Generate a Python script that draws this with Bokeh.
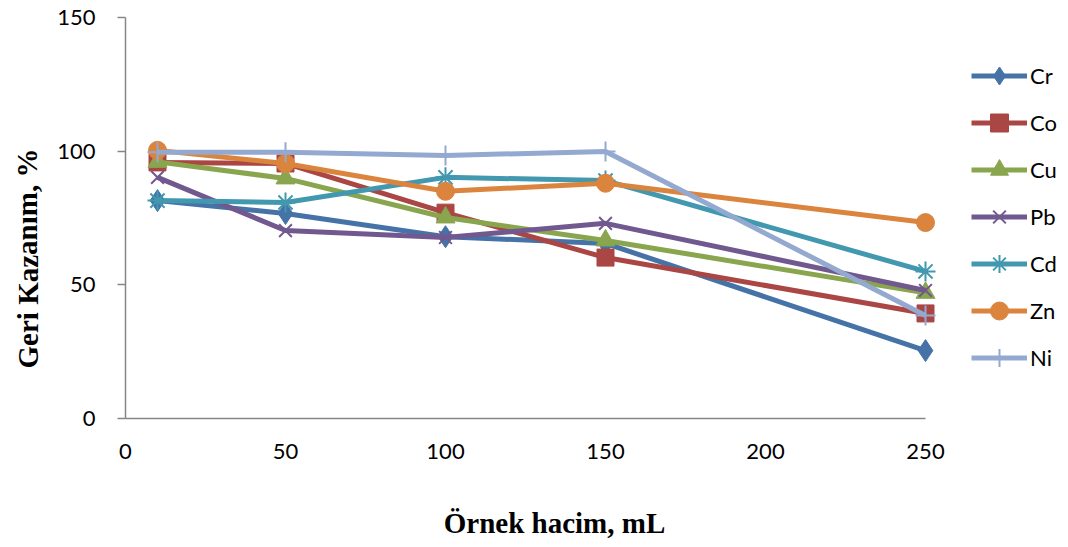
from bokeh.plotting import figure
from bokeh.models import Legend, LegendItem, Label, Range1d, FixedTicker, LinearAxis
from bokeh.embed import file_html
from bokeh.resources import INLINE

volumes = [10, 50, 100, 150, 250]
cr = [81.5, 76.7, 68.0, 65.5, 25.4]
co = [95.8, 95.4, 77.0, 60.2, 39.3]
cu = [96.0, 89.8, 75.2, 66.6, 47.0]
pb = [90.2, 70.3, 67.7, 73.0, 47.9]
cd = [81.5, 80.8, 90.2, 89.0, 55.0]
zn = [100.3, 95.4, 85.0, 88.0, 73.3]
ni = [99.6, 99.6, 98.4, 99.9, 38.5]

names = ["Cr", "Co", "Cu", "Pb", "Cd", "Zn", "Ni"]
series = [cr, co, cu, pb, cd, zn, ni]
colors = ["#4572A7", "#AA4643", "#89A54E", "#71588F", "#4198AF", "#DB843D", "#93A9CF"]
markers = ["diamond", "square", "triangle", "x", "asterisk", "circle", "cross"]
sizes = [22, 17, 19, 18, 20, 18, 20]
x_ticks = [0, 50, 100, 150, 200, 250]
y_ticks = [0, 50, 100, 150]

W, H = 1068, 547
X0, XS = 125, 3.2          # pixel of x=0, pixels per mL
Y0, YS = 418, 401 / 150    # pixel of y=0, pixels per %

p = figure(width=W, height=H, output_backend="svg", toolbar_location=None,
           x_axis_location=None, y_axis_location=None,
           x_range=Range1d(-X0 / XS, (W - X0) / XS),
           y_range=Range1d(-(H - Y0) / YS, Y0 / YS),
           min_border=0, min_border_left=0, min_border_right=0,
           min_border_top=0, min_border_bottom=0)
p.outline_line_color = None
for g in p.grid:
    g.visible = False

xaxis = LinearAxis(fixed_location=0, bounds=(0, 250), ticker=FixedTicker(ticks=x_ticks))
yaxis = LinearAxis(fixed_location=0, bounds=(0, 150), ticker=FixedTicker(ticks=y_ticks))
for ax in (xaxis, yaxis):
    ax.axis_line_color = "#868686"
    ax.axis_line_width = 1.5
    ax.major_tick_line_color = "#868686"
    ax.major_tick_line_width = 1.5
    ax.minor_tick_line_color = None
    ax.major_label_text_font = "Lato"
    ax.major_label_text_font_size = "22px"
    ax.major_label_text_color = "black"
xaxis.major_tick_out = 0
xaxis.major_tick_in = 0
xaxis.major_label_standoff = 25
yaxis.major_tick_out = 8
yaxis.major_tick_in = 0
yaxis.major_label_standoff = 22
p.add_layout(xaxis, "below")
p.add_layout(yaxis, "left")

items = []
for name, ys, c, m, s in zip(names, series, colors, markers, sizes):
    r1 = p.line(volumes, ys, line_color=c, line_width=5)
    if m in ("x", "asterisk", "cross"):
        r2 = p.scatter(volumes, ys, marker=m, size=s, line_color=c, line_width=2,
                       fill_color=None)
    else:
        r2 = p.scatter(volumes, ys, marker=m, size=s, line_color=c, fill_color=c)
    items.append(LegendItem(label=name, renderers=[r1, r2]))

legend = Legend(items=items, location=(971, 167), glyph_width=56, glyph_height=45,
                label_height=45, spacing=2, padding=0, margin=0, label_standoff=3,
                label_text_font="Lato", label_text_font_size="22px",
                label_text_baseline="middle", label_text_color="black",
                border_line_color=None, background_fill_alpha=0)
p.add_layout(legend)

p.add_layout(Label(x=27, y=H - 258, x_units="screen", y_units="screen", text="Geri Kazanım, %",
                   angle=1.5708, text_font="Liberation Serif", text_font_style="bold",
                   text_font_size="29px", text_align="center", text_baseline="middle",
                   text_color="black"))
p.add_layout(Label(x=554, y=H - 522, x_units="screen", y_units="screen", text="Örnek hacim, mL",
                   text_font="Liberation Serif", text_font_style="bold",
                   text_font_size="29px", text_align="center", text_baseline="middle",
                   text_color="black"))

open("out.html", "w").write(file_html(p, INLINE))
